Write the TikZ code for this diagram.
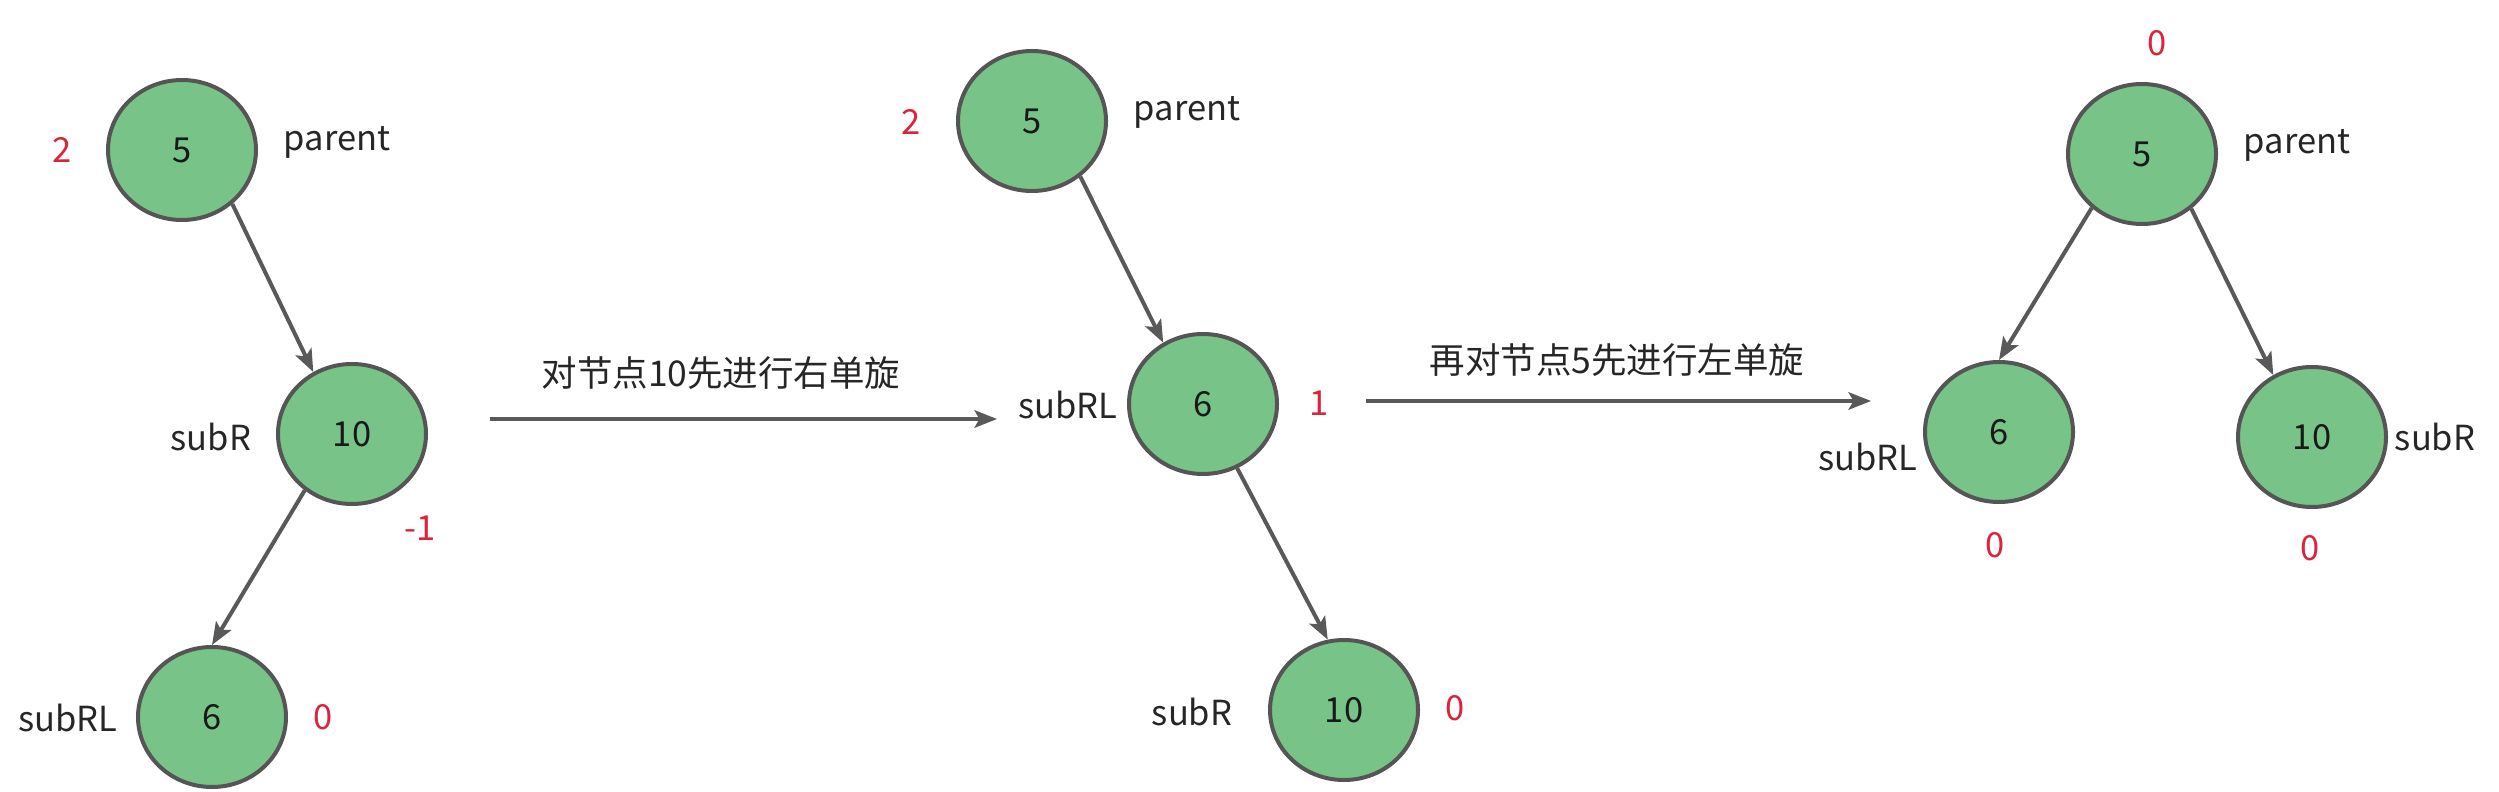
\documentclass[tikz,border=0pt]{standalone}
\usepackage{fontspec}
\setmainfont{Noto Sans CJK SC}
\usetikzlibrary{arrows.meta,shapes.geometric}
\definecolor{nodefill}{HTML}{78C387}
\definecolor{nodeline}{HTML}{555555}
\definecolor{edgecol}{HTML}{595959}
\definecolor{redtxt}{HTML}{DC233C}
\definecolor{txt}{HTML}{262626}
\tikzset{
  treenode/.style={ellipse,draw=nodeline,fill=nodefill,line width=1.6pt,minimum width=59.2pt,minimum height=56pt,inner sep=0pt,text=black!90,font=\fontsize{13.8}{16}\selectfont},
  lbl/.style={text=txt,inner sep=0pt,font=\fontsize{13.8}{16}\selectfont},
  bf/.style={text=redtxt,inner sep=0pt,font=\fontsize{13.8}{16}\selectfont},
  captxt/.style={text=txt,inner sep=0pt,font=\fontsize{14.2}{17}\selectfont},
  conn/.style={draw=edgecol,line width=1.6pt,-{Stealth[length=9pt,width=7pt,inset=2pt]}}
}
\begin{document}
\begin{tikzpicture}[x=0.4pt,y=-0.4pt]
\useasboundingbox (0,0) rectangle (2499,792);
% Tree 1
\node[treenode] (a5) at (182,150) {5};
\node[treenode] (a10) at (352,434) {10};
\node[treenode] (a6) at (212,717) {6};
\node[bf] (a5b) at (62,150) {2};
\node[lbl] (a5l) at (337,142) {parent};
\node[lbl] (a10l) at (211,437) {subR};
\node[bf] (a10b) at (420,528) {-1};
\node[lbl] (a6l) at (68,718) {subRL};
\node[bf] (a6b) at (323,717) {0};
\draw[conn] (a5.-47) -- (a10.122);
\draw[conn] (a10.-130) -- (a6.90);
% Arrow 1
\coordinate (s1) at (490,419);
\coordinate (e1) at (997,419);
\draw[conn] (s1) -- (e1);
\node[captxt] (t1) at (721,373) {对节点10先进行右单旋};
% Tree 2
\node[treenode] (b5) at (1032,121) {5};
\node[treenode] (b6) at (1203,404) {6};
\node[treenode] (b10) at (1344,710) {10};
\node[bf] (b5b) at (911,122) {2};
\node[lbl] (b5l) at (1187,112) {parent};
\node[lbl] (b6l) at (1068,405) {subRL};
\node[bf] (b6b) at (1319,403) {1};
\node[lbl] (b10l) at (1192,712) {subR};
\node[bf] (b10b) at (1455,708) {0};
\draw[conn] (b5.-49) -- (b6.123);
\draw[conn] (b6.-62) -- (b10.103);
% Arrow 2
\coordinate (s2) at (1366,401);
\coordinate (e2) at (1871,401);
\draw[conn] (s2) -- (e2);
\node[captxt] (t2) at (1617,360) {再对节点5先进行左单旋};
% Tree 3
\node[treenode] (c5) at (2142,154) {5};
\node[treenode] (c6) at (1999,432) {6};
\node[treenode] (c10) at (2312,437) {10};
\node[bf] (c5b) at (2157,43) {0};
\node[lbl] (c5l) at (2297,145) {parent};
\node[lbl] (c6l) at (1868,457) {subRL};
\node[bf] (c6b) at (1995,545) {0};
\node[lbl] (c10l) at (2435,437) {subR};
\node[bf] (c10b) at (2310,548) {0};
\draw[conn] (c5.-133) -- (c6.90);
\draw[conn] (c5.-48) -- (c10.122);
\end{tikzpicture}
\end{document}
